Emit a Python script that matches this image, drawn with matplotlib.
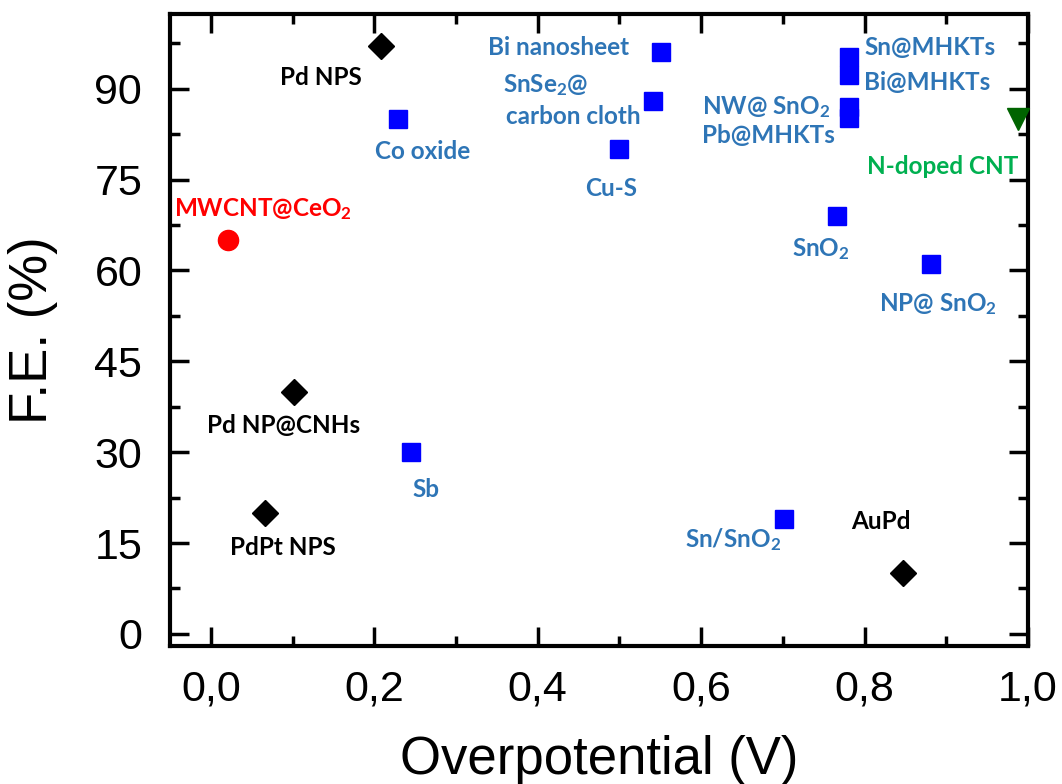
import matplotlib
matplotlib.use("Agg")
import matplotlib.pyplot as plt
from matplotlib.ticker import MultipleLocator, FuncFormatter

# Faradaic efficiency vs overpotential for catalysts, grouped by marker style
pd_names = ["Pd NPS", "Pd NP@CNHs", "PdPt NPS", "AuPd"]
pd_eta = [0.208, 0.102, 0.066, 0.847]
pd_fe = [97, 40, 20, 10]

sq_names = ["Co oxide", "Sb", "Bi nanosheet", "SnSe2@carbon cloth", "Cu-S",
            "Sn@MHKTs", "Bi@MHKTs", "NW@ SnO2", "Pb@MHKTs", "SnO2",
            "NP@ SnO2", "Sn/SnO2"]
sq_eta = [0.229, 0.245, 0.551, 0.541, 0.500, 0.781, 0.781, 0.781, 0.781,
          0.766, 0.881, 0.701]
sq_fe = [85, 30, 96, 88, 80, 95.3, 92.3, 87, 85.2, 69, 61, 19]

ceo2_eta = [0.021]
ceo2_fe = [65]

cnt_eta = [0.988]
cnt_fe = [85]

# label text, x, y, colour
BLUE_TXT = "#2E75B6"
labels = [
    ("Pd NPS", 0.135, 91.8, "black"),
    ("Pd NP@CNHs", 0.089, 34.4, "black"),
    ("PdPt NPS", 0.088, 14.3, "black"),
    ("AuPd", 0.820, 18.6, "black"),
    ("Co oxide", 0.259, 79.6, BLUE_TXT),
    ("Sb", 0.263, 23.9, BLUE_TXT),
    ("Bi nanosheet", 0.425, 96.8, BLUE_TXT),
    ("SnSe$_2$@", 0.410, 90.6, BLUE_TXT),
    ("carbon cloth", 0.443, 85.4, BLUE_TXT),
    ("Cu-S", 0.490, 73.5, BLUE_TXT),
    ("Sn@MHKTs", 0.880, 96.8, BLUE_TXT),
    ("Bi@MHKTs", 0.877, 91.0, BLUE_TXT),
    ("NW@ SnO$_2$", 0.680, 87.0, BLUE_TXT),
    ("Pb@MHKTs", 0.682, 82.2, BLUE_TXT),
    ("SnO$_2$", 0.747, 63.5, BLUE_TXT),
    ("NP@ SnO$_2$", 0.890, 54.4, BLUE_TXT),
    ("Sn/SnO$_2$", 0.639, 15.5, BLUE_TXT),
    ("MWCNT@CeO$_2$", 0.064, 70.1, "#FF0000"),
    ("N-doped CNT", 0.896, 77.1, "#00B050"),
]

plt.rcParams["font.family"] = ["Liberation Sans", "DejaVu Sans"]
plt.rcParams["mathtext.default"] = "regular"

fig = plt.figure(figsize=(10.62, 7.84), dpi=100)
ax = fig.add_axes([0.160, 0.176, 0.808, 0.806])

ax.plot(pd_eta, pd_fe, "D", color="black", markersize=13.5, clip_on=False, zorder=3)
ax.plot(sq_eta, sq_fe, "s", color="#0000FF", markersize=13, clip_on=False, zorder=3)
ax.plot(ceo2_eta, ceo2_fe, "o", color="#FF0000", markersize=14.5, clip_on=False, zorder=3)
ax.plot(cnt_eta, cnt_fe, "v", color="#006400", markersize=16, clip_on=False, zorder=3)

for txt, x, y, c in labels:
    ax.text(x, y, txt, color=c, fontsize=17.5, fontweight="bold",
            family=["Lato", "DejaVu Sans"], ha="center", va="center")

ax.set_xlim(-0.05, 1.0)
ax.set_ylim(-2, 102.3)
ax.xaxis.set_major_locator(MultipleLocator(0.2))
ax.xaxis.set_minor_locator(MultipleLocator(0.1))
ax.yaxis.set_major_locator(MultipleLocator(15))
ax.yaxis.set_minor_locator(MultipleLocator(7.5))
ax.xaxis.set_major_formatter(FuncFormatter(lambda v, p: f"{v:.1f}".replace(".", ",")))
ax.yaxis.set_major_formatter(FuncFormatter(lambda v, p: f"{v:.0f}"))

ax.tick_params(which="both", direction="in", top=True, right=True, width=2.5)
ax.tick_params(which="major", length=14, labelsize=31)
ax.tick_params(axis="y", which="major", pad=20)
ax.tick_params(axis="x", which="major", pad=17)
ax.tick_params(which="minor", length=7)
for s in ax.spines.values():
    s.set_linewidth(3)

ax.set_xlabel("Overpotential (V)", fontsize=38, labelpad=18)
ax.set_ylabel("F.E. (%)", fontsize=38, labelpad=26)

fig.savefig("out.png", dpi=100)
